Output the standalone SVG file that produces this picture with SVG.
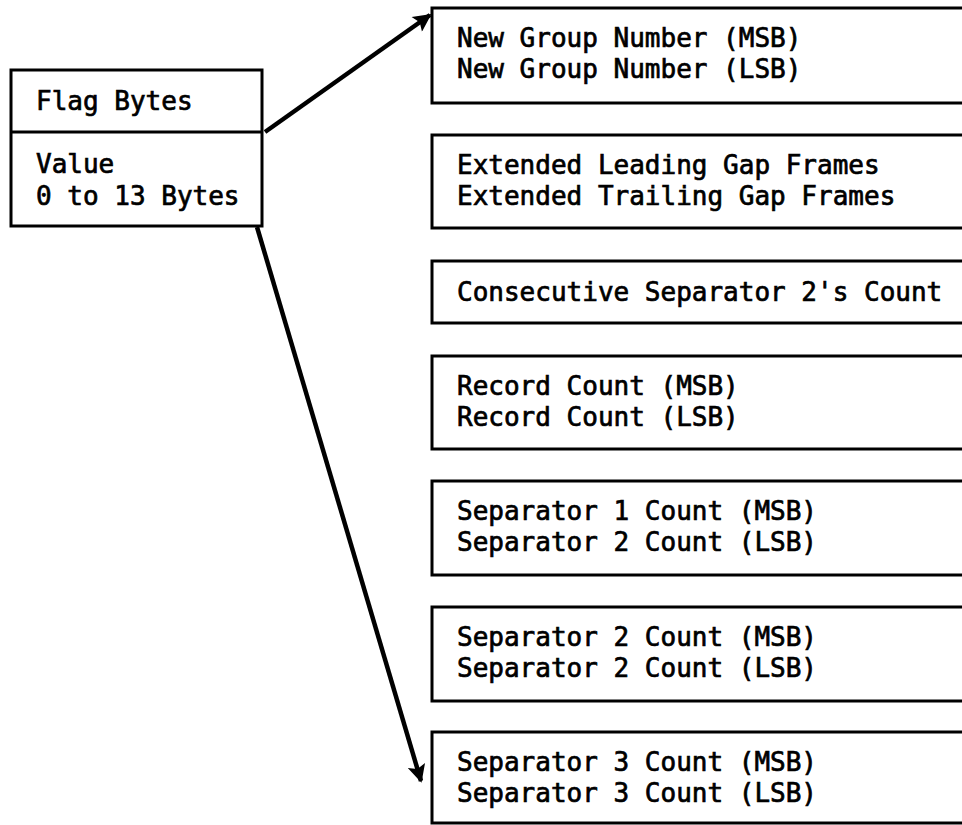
<svg xmlns="http://www.w3.org/2000/svg" width="962" height="825" viewBox="0 0 962 825">
<style>
.box{fill:#fff;stroke:#000;stroke-width:3}
.t{font-family:"DejaVu Sans Mono","Liberation Mono",monospace;font-size:26px;fill:#000;stroke:#000;stroke-width:0.7}
.c{stroke:#000;stroke-width:4.5;fill:none}
</style>
<defs>
<marker id="ah" viewBox="0 0 10 10" refX="9" refY="5" markerWidth="5.5" markerHeight="4" orient="auto" markerUnits="strokeWidth">
<path d="M0,0 L10,5 L0,10 L2,5 z" fill="#000"/>
</marker>
</defs>
<rect width="962" height="825" fill="#fff"/>
<g id="flag">
<rect class="box" x="11" y="70" width="251" height="156"/>
<line x1="11" y1="132" x2="262" y2="132" stroke="#000" stroke-width="3"/>
<text class="t" x="36" y="110">Flag Bytes</text>
<text class="t" x="36" y="173">Value</text>
<text class="t" x="36" y="205">0 to 13 Bytes</text>
</g>
<g id="b1">
<rect class="box" x="432" y="8" width="540" height="95"/>
<text class="t" x="457" y="47">New Group Number (MSB)</text>
<text class="t" x="457" y="78">New Group Number (LSB)</text>
</g>
<g id="b2">
<rect class="box" x="432" y="135" width="540" height="93"/>
<text class="t" x="457" y="174">Extended Leading Gap Frames</text>
<text class="t" x="457" y="205">Extended Trailing Gap Frames</text>
</g>
<g id="b3">
<rect class="box" x="432" y="261" width="540" height="62"/>
<text class="t" x="457" y="301">Consecutive Separator 2's Count</text>
</g>
<g id="b4">
<rect class="box" x="432" y="356" width="540" height="93"/>
<text class="t" x="457" y="395">Record Count (MSB)</text>
<text class="t" x="457" y="426">Record Count (LSB)</text>
</g>
<g id="b5">
<rect class="box" x="432" y="481" width="540" height="94"/>
<text class="t" x="457" y="520">Separator 1 Count (MSB)</text>
<text class="t" x="457" y="551">Separator 2 Count (LSB)</text>
</g>
<g id="b6">
<rect class="box" x="432" y="607" width="540" height="94"/>
<text class="t" x="457" y="646">Separator 2 Count (MSB)</text>
<text class="t" x="457" y="677">Separator 2 Count (LSB)</text>
</g>
<g id="b7">
<rect class="box" x="432" y="732" width="540" height="91"/>
<text class="t" x="457" y="771">Separator 3 Count (MSB)</text>
<text class="t" x="457" y="802">Separator 3 Count (LSB)</text>
</g>
<g id="connectors">
<line class="c" x1="265" y1="132" x2="430" y2="15" marker-end="url(#ah)"/>
<line class="c" x1="257" y1="227" x2="421" y2="781" marker-end="url(#ah)"/>
</g>
</svg>
